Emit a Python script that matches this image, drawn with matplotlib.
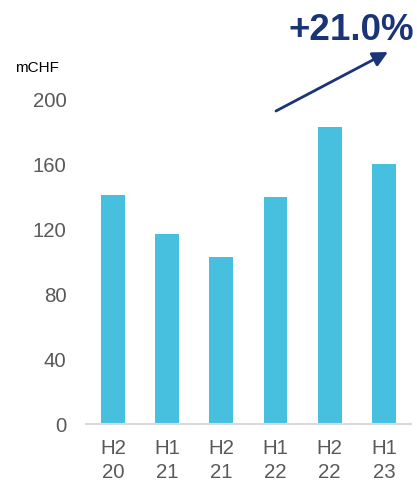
import matplotlib
matplotlib.use("Agg")
import matplotlib.pyplot as plt

# Data
periods = ["H2\n20", "H1\n21", "H2\n21", "H1\n22", "H2\n22", "H1\n23"]
values = [141, 117, 103, 140, 183, 160]
yticks = [0, 40, 80, 120, 160, 200]
growth_label = "+21.0%"
unit_label = "mCHF"

bar_color = "#47BFDF"
navy = "#1B3478"
gray = "#595959"

plt.rcParams['font.family'] = ['Liberation Sans', 'DejaVu Sans']

fig = plt.figure(figsize=(4.17, 4.82), dpi=100)
ax = fig.add_axes([0.2062, 0.1203, 0.7794, 0.6733])

x = range(len(periods))
ax.bar(x, values, width=0.44, color=bar_color, zorder=2)

ax.set_xlim(-0.5, len(periods) - 0.5)
ax.set_ylim(0, 200)
ax.set_yticks(yticks)
ax.set_yticklabels([str(t) for t in yticks], fontsize=14.7, color=gray)
ax.set_xticks(list(x))
ax.set_xticklabels(periods, fontsize=14.7, color=gray, linespacing=1.3)

ax.tick_params(axis="y", length=0, pad=14)
ax.tick_params(axis="x", length=0, pad=11)
for side in ["top", "right", "left"]:
    ax.spines[side].set_visible(False)
ax.spines["bottom"].set_color("#D9D9D9")
ax.spines["bottom"].set_linewidth(1.5)

# unit label and growth arrow
fig.text(15 / 417, 1 - 68 / 482, unit_label, fontsize=11, color="black",
         ha="left", va="center")
fig.text(351 / 417, 1 - 30 / 482, growth_label, fontsize=26.5, fontweight="bold",
         color=navy, ha="center", va="center")
ax.annotate("", xy=(388, 482 - 52), xytext=(276, 482 - 111),
            xycoords="figure pixels", textcoords="figure pixels",
            arrowprops=dict(arrowstyle="-|>,head_length=0.9,head_width=0.45",
                            color=navy, lw=2, shrinkA=0, shrinkB=0))

fig.savefig("out.png", dpi=100)
